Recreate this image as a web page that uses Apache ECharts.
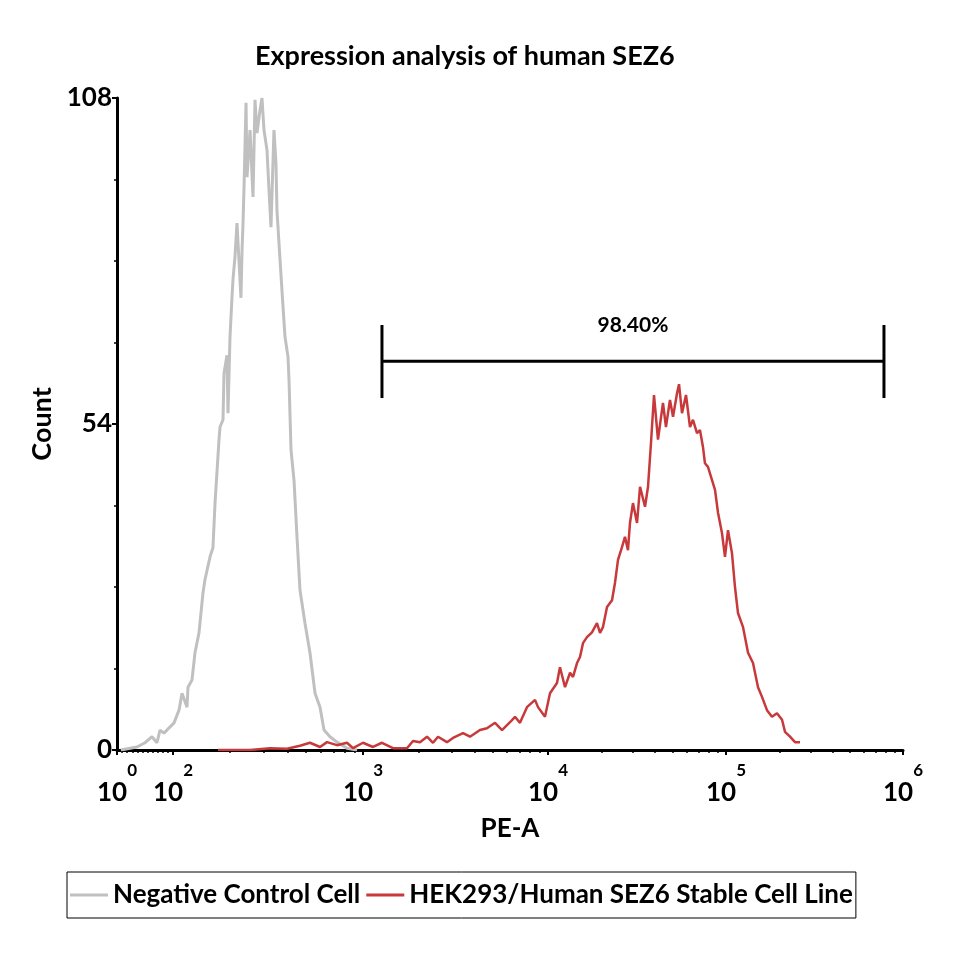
<!DOCTYPE html>
<html><head><meta charset="utf-8">
<script src="https://cdn.jsdelivr.net/npm/echarts@6/dist/echarts.min.js"></script>
<style>html,body{margin:0;padding:0;background:#fff}#c{width:960px;height:960px}</style>
</head><body><div id="c"></div><script>
// ---- data (x = display channel on a 0..1024 biexponential PE-A scale, y = count) ----
const TITLE = 'Expression analysis of human SEZ6';
const SERIES_NAMES = ['Negative Control Cell', 'HEK293/Human SEZ6 Stable Cell Line'];
const X_TICK_EXPONENTS = [0, 2, 3, 4, 5, 6];
const X_TICK_CHANNELS = [0, 73, 320.5, 561.5, 793.4, 1024];
const Y_TICKS = [0, 54, 108];
const negativeControl = [
 [5,0],[17,0.3],[26,0.5],[36.5,1.2],[45.6,2.2],[52.1,1.2],[56,3.3],[61.2,2.8],[65.1,3.3],[74.3,4.5],
 [80.8,6.6],[84.7,9.4],[91.2,7.1],[92.5,10.4],[97.7,11.6],[101.6,16.1],[106.8,19.4],[112,26],[114.6,28.2],
 [121.2,32],[125,33.5],[127.7,40.9],[132.9,51.4],[134.2,53.5],[138.1,54.7],[139.4,62.4],[143.3,65.4],
 [144.6,55.8],[147.2,68.4],[149.8,75],[151.1,77.9],[153.7,81.7],[156.3,87.3],[161.5,74.9],[162.9,82.8],
 [164.2,87.3],[165.5,93.3],[168.1,107.2],[169.4,94.9],[173.3,102.7],[177.2,91.6],[179.8,107.7],[182.4,102.2],
 [186.3,106],[188.9,108],[191.5,102.7],[195.4,99.4],[198,92.8],[200.6,86.6],[204.5,102.7],[207.1,97.2],
 [208.4,89.4],[212.4,81.2],[216.3,73.4],[218.9,68.4],[222.8,65.1],[224.1,61.3],[226.7,49.7],[230.6,44.7],
 [234.5,35.3],[238.4,26.5],[244.9,21],[251.4,16.1],[258,9.4],[264.5,7.1],[269.7,3.3],[277.5,2.2],
 [286.6,1.3],[299.6,0.3],[312.7,0]
];
const sez6Stable = [
 [131.6,0],[173.3,0],[199.3,0.3],[221.5,0.2],[238.4,0.7],[251.4,1.2],[264.5,0.5],[273.6,1.3],[286.6,0.8],
 [299.6,1.2],[307.5,0.3],[320.5,1.2],[333.5,0.5],[345.2,1.2],[359.6,0.3],[377.8,0.3],[385.6,1.5],[394.7,1.3],
 [403.9,2.2],[411.7,1.2],[418.2,2.2],[429.9,1.3],[437.7,2],[450.8,2.8],[459.9,2.2],[472.9,3.3],[482,3.6],
 [492.5,4.5],[501.6,3.3],[512,4.6],[518.5,5.5],[525,4.5],[534.1,7.1],[544.6,8.3],[548.5,7.1],[557.6,5.5],
 [564.1,9.4],[573.2,11.1],[577.1,13.7],[583.7,10.4],[590.2,12.8],[594.1,12.1],[599.3,14.4],[603.2,15.4],
 [607.1,17.7],[612.3,18.7],[618.8,19.5],[625.3,21],[629.3,19.4],[633.2,20.4],[638.4,23.7],[644.9,24.8],
 [648.8,27.7],[652.7,31.5],[657.9,33.6],[661.8,35.3],[665.7,33.1],[668.3,37.6],[672.2,40.9],[677.5,37.6],
 [681.4,43.6],[687.9,40.3],[691.8,43.6],[695.7,50.9],[699.6,58.8],[704.8,51.4],[711.3,57.5],[715.2,53.5],
 [720.4,58],[724.4,55.2],[729.6,59.1],[732.2,60.6],[736.1,55.8],[741.3,58.8],[746.5,53.5],[750.4,54.7],
 [755.6,52.5],[759.5,53],[763.4,50.2],[766,47.5],[769.9,46.9],[775.2,44.7],[779.1,43.1],[783,39.3],
 [788.2,35.9],[792.1,32],[796,36.4],[801.2,32.6],[805.1,27],[809,22.7],[815.5,20.4],[822.1,16.1],
 [828.6,14.4],[835.1,10.4],[840.3,8.8],[846.8,6.6],[853.3,5.5],[859.8,6.1],[866.4,5],[870.3,3],
 [876.8,2.2],[883.3,1.3],[889.8,1.3]
];
// gate: [from channel, to channel, bar level, cap low, cap high]
const GATE = [345.2, 999.2, 64.4, 58.3, 70.4];
const GATE_LABEL = '98.40%';

// ---- minor tick positions on the biexponential scale ----
const minorTicks = [];
for (let k = 1; k <= 10; k++) minorTicks.push(X_TICK_CHANNELS[1] * k / 11);
for (let i = 1; i < X_TICK_CHANNELS.length - 1; i++) {
  const c0 = X_TICK_CHANNELS[i], c1 = X_TICK_CHANNELS[i + 1];
  for (let m = 2; m <= 9; m++) minorTicks.push(c0 + Math.log10(m) * (c1 - c0));
}

const FONT = 'Lato, "Open Sans", sans-serif';
const chart = echarts.init(document.getElementById('c'), null, {renderer: 'canvas'});
chart.setOption({
  animation: false,
  backgroundColor: '#fff',
  title: {text: TITLE, left: 250, top: 38,
    textStyle: {fontFamily: FONT, fontSize: 27, fontWeight: 'bold', color: '#000'}},
  legend: {
    data: SERIES_NAMES, left: 67, top: 872, orient: 'horizontal',
    icon: 'rect', itemWidth: 38, itemHeight: 3, itemGap: 6,
    borderColor: '#000', borderWidth: 1, padding: [10, 3, 10, 3],
    textStyle: {fontFamily: FONT, fontSize: 26, fontWeight: 'bold', color: '#000'}
  },
  grid: {left: 117, right: 57, top: 98, bottom: 210, containLabel: false, outerBoundsMode: 'none'},
  xAxis: [{
    type: 'value', min: 0, max: 1024, position: 'bottom',
    name: 'PE-A', nameLocation: 'middle', nameGap: 66,
    nameTextStyle: {fontFamily: FONT, fontSize: 26, fontWeight: 'bold', color: '#000'},
    axisLine: {show: true, lineStyle: {color: '#000', width: 3}},
    axisTick: {show: true, customValues: X_TICK_CHANNELS, length: 5, lineStyle: {color: '#000', width: 2}},
    axisLabel: {
      customValues: X_TICK_CHANNELS, margin: 12,
      formatter: function (v) {
        let idx = 0, best = 1e9;
        X_TICK_CHANNELS.forEach((c, i) => { if (Math.abs(c - v) < best) { best = Math.abs(c - v); idx = i; } });
        return '{b|10}{s|' + X_TICK_EXPONENTS[idx] + '}';
      },
      rich: {
        b: {fontFamily: FONT, fontSize: 26, fontWeight: 'bold', color: '#000', lineHeight: 44, verticalAlign: 'bottom'},
        s: {fontFamily: FONT, fontSize: 17, fontWeight: 'bold', color: '#000', lineHeight: 44, verticalAlign: 'top'}
      }
    },
    splitLine: {show: false}
  }, {
    type: 'value', min: 0, max: 1024, position: 'bottom',
    axisLine: {show: false},
    axisTick: {show: true, customValues: minorTicks, length: 3, lineStyle: {color: '#000', width: 1.5}},
    axisLabel: {show: false}, splitLine: {show: false}
  }],
  yAxis: {
    type: 'value', min: Y_TICKS[0], max: Y_TICKS[2], interval: Y_TICKS[1],
    name: 'Count', nameLocation: 'middle', nameGap: 58,
    nameTextStyle: {fontFamily: FONT, fontSize: 27, fontWeight: 'bold', color: '#000'},
    axisLine: {show: true, lineStyle: {color: '#000', width: 3}},
    axisTick: {show: true, length: 5, lineStyle: {color: '#000', width: 2}},
    minorTick: {show: true, splitNumber: 4, length: 3, lineStyle: {color: '#000', width: 1.5}},
    axisLabel: {fontFamily: FONT, fontSize: 26, fontWeight: 'bold', color: '#000', margin: 5},
    splitLine: {show: false}, minorSplitLine: {show: false}
  },
  series: [{
    name: SERIES_NAMES[0], type: 'line', data: negativeControl, symbol: 'none',
    lineStyle: {color: '#c0c0c0', width: 3}, itemStyle: {color: '#c0c0c0'}, z: 3
  }, {
    name: SERIES_NAMES[1], type: 'line', data: sez6Stable, symbol: 'none',
    lineStyle: {color: '#c8393b', width: 2.5}, itemStyle: {color: '#c8393b'}, z: 4
  }, {
    type: 'custom', data: [GATE], z: 5,
    encode: {x: [0, 1], y: [2, 3, 4]},
    renderItem: function (params, api) {
      const a = api.value(0), b = api.value(1), lvl = api.value(2), lo = api.value(3), hi = api.value(4);
      const pAlo = api.coord([a, lo]), pAhi = api.coord([a, hi]);
      const pBlo = api.coord([b, lo]), pBhi = api.coord([b, hi]);
      const pAm = api.coord([a, lvl]), pBm = api.coord([b, lvl]);
      const pT = api.coord([(a + b) / 2, hi]);
      const st = {stroke: '#000', lineWidth: 3};
      return {type: 'group', children: [
        {type: 'line', shape: {x1: pAlo[0], y1: pAlo[1], x2: pAhi[0], y2: pAhi[1]}, style: st},
        {type: 'line', shape: {x1: pBlo[0], y1: pBlo[1], x2: pBhi[0], y2: pBhi[1]}, style: st},
        {type: 'line', shape: {x1: pAm[0], y1: pAm[1], x2: pBm[0], y2: pBm[1]}, style: st},
        {type: 'text', x: pT[0], y: pT[1], style: {text: GATE_LABEL, fill: '#000',
          font: 'bold 21px ' + FONT, align: 'center', verticalAlign: 'middle'}}
      ]};
    }
  }]
});
</script></body></html>
